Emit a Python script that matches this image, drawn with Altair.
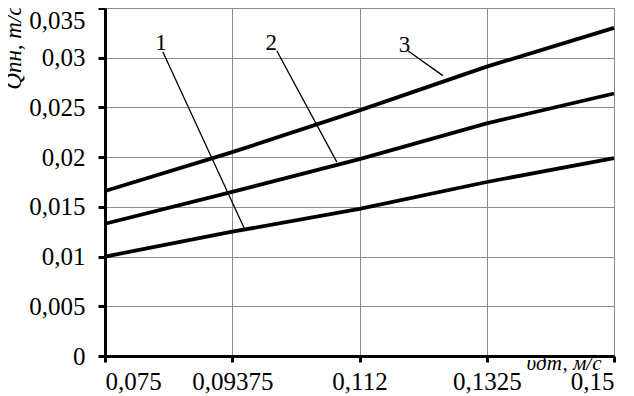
import json
import altair as alt
import pandas as pd

# --- data ---
x_labels = ["0,075", "0,09375", "0,112", "0,1325", "0,15"]
x_index = [0, 1, 2, 3, 4]
curve_1 = [0.0100, 0.0125, 0.0148, 0.0175, 0.0199]
curve_2 = [0.0133, 0.0165, 0.0198, 0.0234, 0.0264]
curve_3 = [0.0166, 0.0205, 0.0247, 0.0291, 0.0330]
y_ticks = [0, 0.005, 0.01, 0.015, 0.02, 0.025, 0.03, 0.035]

# curve labels and their leader lines (data coordinates)
label_names = ["1", "2", "3"]
label_x = [0.44, 1.306, 2.354]
label_y = [0.03145, 0.03145, 0.03128]
leader_x0 = [0.454, 1.35, 2.38]
leader_y0 = [0.0306, 0.0307, 0.0307]
leader_x1 = [1.096, 1.822, 2.655]
leader_y1 = [0.0128, 0.0195, 0.0282]

rows = []
for name, vals in zip(label_names, [curve_1, curve_2, curve_3]):
    for i, v in zip(x_index, vals):
        rows.append({"curve": name, "xi": i, "q": v})
lines_df = pd.DataFrame(rows)

ann_df = pd.DataFrame({"name": label_names, "lx": label_x, "ly": label_y,
                       "x0": leader_x0, "y0": leader_y0, "x1": leader_x1, "y1": leader_y1})

FONT = "Times New Roman, Liberation Serif, serif"
label_expr = json.dumps(x_labels).replace('"', "'") + "[datum.value]"

x_scale = alt.Scale(domain=[0, 4], nice=False, zero=False)
y_scale = alt.Scale(domain=[0, 0.035], nice=False, zero=True)

x_axis = alt.Axis(
    values=x_index, labelExpr=label_expr, grid=True, gridColor="#8c8c8c", gridWidth=1,
    domainColor="black", domainWidth=3, tickColor="black", tickWidth=3, tickSize=6,
    labelFont=FONT, labelFontSize=25, labelColor="black", labelPadding=7,
    title="υдт, м/с", titleFont=FONT, titleFontStyle="italic", titleFontWeight="normal",
    titleFontSize=21, titleColor="black", titleAlign="right", titleBaseline="alphabetic",
    titleX=496, titleY=13, titleAngle=0,
)
y_axis = alt.Axis(
    values=y_ticks,
    labelExpr="datum.value == 0 ? '0' : replace(format(datum.value, '.3~f'), '.', ',')",
    grid=True, gridColor="#8c8c8c", gridWidth=1,
    domainColor="black", domainWidth=3, tickColor="black", tickWidth=3, tickSize=7,
    labelFont=FONT, labelFontSize=25, labelColor="black", labelPadding=13,
    labelBaseline={"condition": {"test": "datum.value >= 0.035", "value": "top"}, "value": "middle"},
    title="Qпн, m/c", titleFont=FONT, titleFontStyle="italic", titleFontWeight="normal",
    titleFontSize=23, titleColor="black", titleAngle=-90, titleAlign="right",
    titleBaseline="middle", titleX=-92, titleY=-3,
)

lines = alt.Chart(lines_df).mark_line(color="black", strokeWidth=3.8).encode(
    x=alt.X("xi:Q", scale=x_scale, axis=x_axis),
    y=alt.Y("q:Q", scale=y_scale, axis=y_axis),
    detail="curve:N",
)

leaders = alt.Chart(ann_df).mark_rule(color="black", strokeWidth=1.3).encode(
    x=alt.X("x0:Q", scale=x_scale), y=alt.Y("y0:Q", scale=y_scale),
    x2="x1:Q", y2="y1:Q",
)

texts = alt.Chart(ann_df).mark_text(font=FONT, fontSize=23, color="black",
                                    align="center", baseline="middle").encode(
    x=alt.X("lx:Q", scale=x_scale), y=alt.Y("ly:Q", scale=y_scale), text="name:N",
)

chart = alt.layer(lines, leaders, texts).properties(
    width=509, height=348,
    autosize=alt.AutoSizeParams(type="none"),
    padding={"left": 97, "top": 0, "right": 12, "bottom": 38},
).configure_view(stroke=None).configure(background="white")

chart.save("out.html", embed_options={"renderer": "svg", "actions": False})
